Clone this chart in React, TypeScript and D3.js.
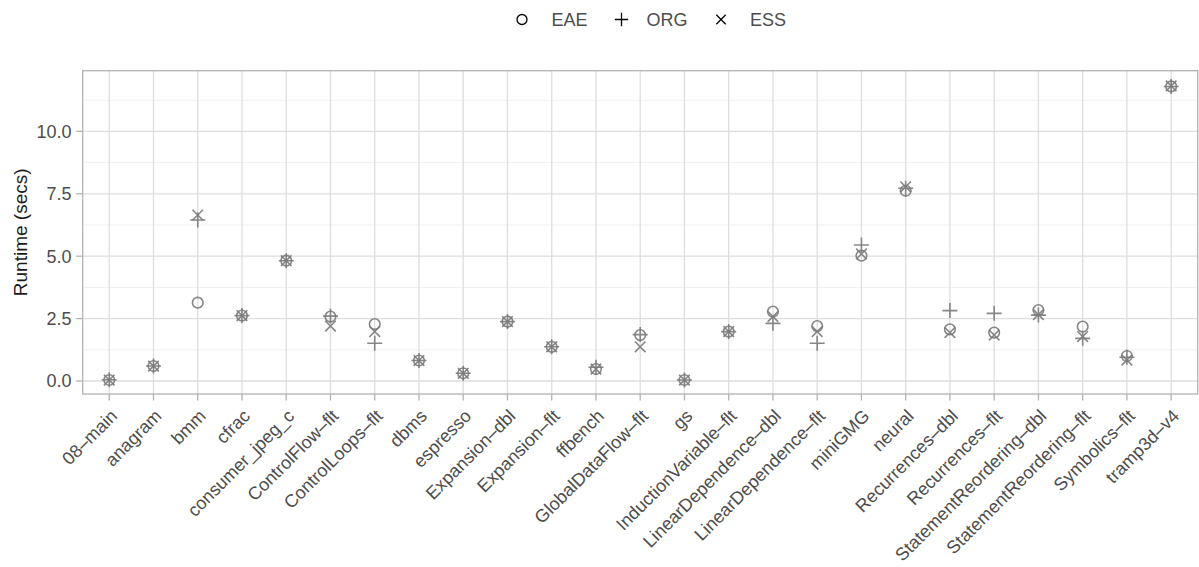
import React from "react";
import * as d3 from "d3";

// Benchmarks, in plotting order
const categories: string[] = [
  "08–main", "anagram", "bmm", "cfrac", "consumer_jpeg_c", "ControlFlow–flt",
  "ControlLoops–flt", "dbms", "espresso", "Expansion–dbl", "Expansion–flt",
  "ffbench", "GlobalDataFlow–flt", "gs", "InductionVariable–flt",
  "LinearDependence–dbl", "LinearDependence–flt", "miniGMG", "neural",
  "Recurrences–dbl", "Recurrences–flt", "StatementReordering–dbl",
  "StatementReordering–flt", "Symbolics–flt", "tramp3d–v4",
];

// Runtime in seconds per configuration
const eae: number[] = [
  0.04, 0.6, 3.14, 2.62, 4.82, 2.58, 2.28, 0.82, 0.31, 2.38, 1.37, 0.48, 1.84,
  0.04, 1.98, 2.78, 2.2, 5.02, 7.62, 2.07, 1.94, 2.84, 2.18, 1.0, 11.8,
];
const org: number[] = [
  0.05, 0.6, 6.45, 2.62, 4.82, 2.6, 1.51, 0.82, 0.31, 2.38, 1.37, 0.55, 1.86,
  0.04, 1.98, 2.31, 1.51, 5.45, 7.72, 2.82, 2.71, 2.64, 1.71, 0.95, 11.8,
];
const ess: number[] = [
  0.04, 0.6, 6.65, 2.62, 4.82, 2.2, 1.98, 0.82, 0.31, 2.38, 1.37, 0.48, 1.37,
  0.04, 1.98, 2.58, 1.98, 5.09, 7.78, 1.94, 1.84, 2.66, 1.78, 0.84, 11.82,
];

const yTicks: number[] = [0, 2.5, 5, 7.5, 10];
const yMinor: number[] = [1.25, 3.75, 6.25, 8.75, 11.25];
const yDomain: [number, number] = [-0.52, 12.43];

const W = 1199;
const H = 567;
const panel = { left: 82.7, right: 1197.7, top: 70.7, bottom: 394 };

const POINT = "#7a7a7a";
const FONT = "'Liberation Sans', Arial, Helvetica, sans-serif";

type Shape = "circle" | "plus" | "cross";

function Mark({ shape, x, y, color, size, width, opacity }: {
  shape: Shape; x: number; y: number; color: string; size: number; width: number; opacity?: number;
}) {
  const common = { stroke: color, strokeWidth: width, fill: "none", opacity: opacity ?? 1 };
  if (shape === "circle") return <circle cx={x} cy={y} r={size} {...common} />;
  if (shape === "plus") {
    const a = size * Math.SQRT2;
    return <path d={`M${x - a},${y}H${x + a}M${x},${y - a}V${y + a}`} {...common} />;
  }
  const a = size;
  return <path d={`M${x - a},${y - a}L${x + a},${y + a}M${x - a},${y + a}L${x + a},${y - a}`} {...common} />;
}

export default function App() {
  const x = d3.scalePoint<string>().domain(categories).range([panel.left, panel.right]).padding(0.6);
  const y = d3.scaleLinear().domain(yDomain).range([panel.bottom, panel.top]);

  const series: { name: string; shape: Shape; values: number[] }[] = [
    { name: "EAE", shape: "circle", values: eae },
    { name: "ORG", shape: "plus", values: org },
    { name: "ESS", shape: "cross", values: ess },
  ];

  const legendItems = [
    { name: "EAE", shape: "circle" as Shape, cx: 522, tx: 551.5 },
    { name: "ORG", shape: "plus" as Shape, cx: 621.5, tx: 646.5 },
    { name: "ESS", shape: "cross" as Shape, cx: 721, tx: 750 },
  ];

  return (
    <svg width={W} height={H} style={{ position: "absolute", left: 0, top: 0, display: "block" }} fontFamily={FONT}>
      <rect width={W} height={H} fill="#ffffff" />

      {/* legend */}
      <g>
        {legendItems.map((d) => (
          <g key={d.name}>
            <Mark shape={d.shape} x={d.cx} y={19.5} color="#000" size={d.shape === "circle" ? 5 : 4.7} width={1.3} />
            <text x={d.tx} y={26} fontSize={18} fill="#4d4d4d">{d.name}</text>
          </g>
        ))}
      </g>

      {/* grid */}
      <g>
        {yMinor.map((v) => (
          <line key={`mn${v}`} x1={panel.left} x2={panel.right} y1={y(v)} y2={y(v)} stroke="#ebebeb" strokeWidth={0.8} />
        ))}
        {yTicks.map((v) => (
          <line key={`mj${v}`} x1={panel.left} x2={panel.right} y1={y(v)} y2={y(v)} stroke="#dedede" strokeWidth={1.3} />
        ))}
        {categories.map((c) => (
          <line key={`v${c}`} x1={x(c)} x2={x(c)} y1={panel.top} y2={panel.bottom} stroke="#dedede" strokeWidth={1.3} />
        ))}
      </g>

      {/* points */}
      <g>
        {series.map((s) =>
          s.values.map((v, i) => (
            <Mark key={`${s.name}${i}`} shape={s.shape} x={x(categories[i]) as number} y={y(v)}
              color={POINT} size={5.3} width={1.6} opacity={0.9} />
          ))
        )}
      </g>

      {/* panel border */}
      <rect x={panel.left} y={panel.top} width={panel.right - panel.left} height={panel.bottom - panel.top}
        fill="none" stroke="#b3b3b3" strokeWidth={1.3} />

      {/* y axis */}
      <g>
        {yTicks.map((v) => (
          <g key={`yt${v}`}>
            <line x1={panel.left - 6.5} x2={panel.left} y1={y(v)} y2={y(v)} stroke="#b3b3b3" strokeWidth={1.3} />
            <text x={71.5} y={y(v)} dy="0.36em" textAnchor="end" fontSize={18} fill="#4d4d4d">{v.toFixed(1)}</text>
          </g>
        ))}
        <text transform={`translate(26.5, ${(panel.top + panel.bottom) / 2}) rotate(-90)`} textAnchor="middle"
          fontSize={19} fill="#1a1a1a">Runtime (secs)</text>
      </g>

      {/* x axis */}
      <g>
        {categories.map((c) => (
          <g key={`xt${c}`}>
            <line x1={x(c)} x2={x(c)} y1={panel.bottom} y2={panel.bottom + 6.5} stroke="#b3b3b3" strokeWidth={1.3} />
            <text transform={`translate(${x(c)}, 408) rotate(-45)`} y={0} dy="0.72em" textAnchor="end"
              fontSize={18} fill="#4d4d4d">{c}</text>
          </g>
        ))}
      </g>
    </svg>
  );
}
